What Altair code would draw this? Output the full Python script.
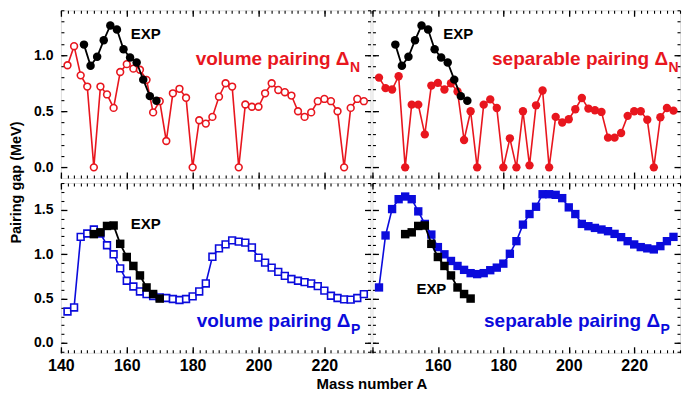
import altair as alt
import pandas as pd

# ---------------- data ----------------
A_model = [142, 144, 146, 148, 150, 152, 154, 156, 158, 160, 162, 164, 166, 168, 170,
           172, 174, 176, 178, 180, 182, 184, 186, 188, 190, 192, 194, 196, 198, 200,
           202, 204, 206, 208, 210, 212, 214, 216, 218, 220, 222, 224, 226, 228, 230, 232]

vol_n = [0.91, 1.08, 0.82, 0.72, 0.00, 0.72, 0.65, 0.53, 0.85, 0.92, 0.88, 0.87, 0.78, 0.49, 0.59,
         0.235, 0.66, 0.70, 0.62, 0.00, 0.42, 0.39, 0.45, 0.63, 0.75, 0.72, 0.00, 0.56, 0.54, 0.54,
         0.66, 0.75, 0.69, 0.67, 0.64, 0.50, 0.45, 0.49, 0.59, 0.61, 0.59, 0.50, 0.00, 0.53, 0.61, 0.59]

sep_n = [0.80, 0.706, 0.694, 0.812, 0.00, 0.559, 0.559, 0.294, 0.729, 0.753, 0.694, 0.75, 0.676, 0.244, 0.50,
         0.00, 0.559, 0.606, 0.529, 0.00, 0.259, 0.00, 0.50, 0.018, 0.553, 0.685, 0.00, 0.45, 0.40, 0.429,
         0.518, 0.618, 0.524, 0.509, 0.494, 0.265, 0.265, 0.306, 0.459, 0.50, 0.50, 0.424, 0.00, 0.447, 0.529, 0.506]

vol_p = [0.354, 0.40, 1.194, 1.232, 1.277, 1.232, 1.10, 0.998, 0.84, 0.70, 0.636, 0.58, 0.55, 0.529, 0.514,
         0.506, 0.495, 0.484, 0.495, 0.525, 0.58, 0.67, 0.97, 1.065, 1.11, 1.154, 1.14, 1.13, 1.075, 0.96,
         0.905, 0.848, 0.80, 0.755, 0.72, 0.70, 0.685, 0.67, 0.64, 0.59, 0.532, 0.506, 0.491, 0.488, 0.506, 0.55]

sep_p = [0.625, 1.21, 1.507, 1.618, 1.648, 1.618, 1.481, 1.34, 1.22, 1.079, 0.998, 0.923, 0.867, 0.823, 0.786,
         0.775, 0.786, 0.819, 0.848, 0.893, 1.004, 1.146, 1.332, 1.451, 1.533, 1.674, 1.674, 1.667, 1.63, 1.526,
         1.451, 1.34, 1.314, 1.295, 1.277, 1.258, 1.228, 1.191, 1.146, 1.109, 1.079, 1.065, 1.053, 1.09, 1.146, 1.194]

A_exp_n = [147, 149, 151, 153, 155, 157, 159, 161, 163, 165, 167, 169]
exp_n = [1.094, 0.905, 0.985, 1.132, 1.265, 1.229, 1.053, 0.979, 0.935, 0.782, 0.635, 0.594]

A_exp_p = [150, 152, 154, 156, 158, 160, 162, 164, 166, 168, 170]
exp_p = [1.225, 1.245, 1.317, 1.322, 1.116, 0.968, 0.867, 0.76, 0.625, 0.551, 0.50]

panel_labels = ["volume pairing \u0394", "separable pairing \u0394",
                "volume pairing \u0394", "separable pairing \u0394"]
panel_subs = ["N", "N", "P", "P"]
exp_label = "EXP"
x_title = "Mass number A"
y_title = "Pairing gap (MeV)"
x_major = [140, 160, 180, 200, 220]

# ---------------- style ----------------
FONT = "Liberation Sans, Arial, Helvetica, sans-serif"
RED = "#e8161e"
BLUE = "#0b0bdc"
XDOM = [140, 234]
YDOM_TOP = [-0.095, 1.40]
YDOM_BOT = [-0.11, 1.80]
x_minor = list(range(140, 235, 2))


def yticks(dom, step):
    n0 = int(round(dom[0] / 0.1)) - 1
    n1 = int(round(dom[1] / 0.1)) + 1
    vals = [round(i * 0.1, 1) for i in range(n0, n1 + 1)]
    vals = [v for v in vals if dom[0] <= v <= dom[1] and (round(v / step, 6) % 1 == 0)]
    return vals


def no_axis_lbl(**kw):
    base = dict(grid=False, domain=False, labels=False, title=None, tickColor="black")
    base.update(kw)
    return alt.Axis(**base)


def panel(y, exp_A, exp_y, color, shape, open_marker, ydom, W, H,
          xlabel_vals, show_ylabels, label, sub, main_x, main_y, exp_x, exp_y_px,
          xaxis_title=None, yaxis_title=None):
    df = pd.DataFrame({"A": A_model, "gap": y})
    dfe = pd.DataFrame({"A": exp_A, "gap": exp_y})
    xs = alt.Scale(domain=XDOM, nice=False, zero=False)
    ys = alt.Scale(domain=ydom, nice=False, zero=False)
    ymaj = yticks(ydom, 0.5)
    ymin = yticks(ydom, 0.1)

    def ghost(xa, ya):
        return alt.Chart(df).mark_point(opacity=0).encode(
            x=alt.X("A:Q", scale=xs, axis=xa),
            y=alt.Y("gap:Q", scale=ys, axis=ya))

    # label axes
    xkw = dict(orient="bottom", values=xlabel_vals if xlabel_vals else x_major, ticks=False,
               domain=False, grid=False, labels=bool(xlabel_vals), labelFontSize=16,
               labelFont=FONT, labelFontWeight="bold", labelColor="black", labelPadding=5,
               labelFlush=False)
    if xaxis_title:
        xkw.update(title=xaxis_title, titleX=311, titleY=24, titleFontSize=15, titleFont=FONT,
                   titleFontWeight="bold", titleColor="black", titleBaseline="top",
                   titleAlign="center")
    else:
        xkw.update(title=None)
    ykw = dict(orient="left", values=ymaj, ticks=False, domain=False, grid=False,
               labels=show_ylabels, labelFontSize=14, labelFont=FONT, labelFontWeight="bold",
               labelColor="black", labelPadding=8, format=".1f", labelFlush=False)
    if yaxis_title:
        ykw.update(title=yaxis_title, titleX=-44, titleY=-1, titleAngle=270, titleFontSize=14.5,
                   titleFont=FONT, titleFontWeight="bold", titleColor="black",
                   titleBaseline="middle", titleAlign="center")
    else:
        ykw.update(title=None)

    layers = [
        ghost(alt.Axis(**xkw), alt.Axis(**ykw)),
        # inward ticks at bottom / left
        ghost(no_axis_lbl(orient="top", offset=-H, values=x_major, tickSize=6, tickWidth=1.3),
              no_axis_lbl(orient="right", offset=-W, values=ymaj, tickSize=6, tickWidth=1.3)),
        ghost(no_axis_lbl(orient="top", offset=-H, values=x_minor, tickSize=3, tickWidth=1.1),
              no_axis_lbl(orient="right", offset=-W, values=ymin, tickSize=3, tickWidth=1.1)),
        # inward ticks at top / right
        ghost(no_axis_lbl(orient="bottom", offset=-H, values=x_major, tickSize=6, tickWidth=1.3),
              no_axis_lbl(orient="left", offset=-W, values=ymaj, tickSize=6, tickWidth=1.3)),
        ghost(no_axis_lbl(orient="bottom", offset=-H, values=x_minor, tickSize=3, tickWidth=1.1),
              no_axis_lbl(orient="left", offset=-W, values=ymin, tickSize=3, tickWidth=1.1)),
    ]

    enc = dict(x=alt.X("A:Q", scale=xs, axis=None), y=alt.Y("gap:Q", scale=ys, axis=None))
    layers.append(alt.Chart(df).mark_line(color=color, strokeWidth=1.6).encode(**enc))
    if open_marker:
        pts = alt.Chart(df).mark_point(shape=shape, filled=True, fill="white", stroke=color,
                                       strokeWidth=1.6, size=46, opacity=1).encode(**enc)
    else:
        pts = alt.Chart(df).mark_point(shape=shape, filled=True, color=color,
                                       size=70, opacity=1).encode(**enc)
    layers.append(pts)
    encE = dict(x=alt.X("A:Q", scale=xs, axis=None), y=alt.Y("gap:Q", scale=ys, axis=None))
    layers.append(alt.Chart(dfe).mark_line(color="black", strokeWidth=1.8).encode(**encE))
    layers.append(alt.Chart(dfe).mark_point(shape=shape, filled=True, color="black",
                                            size=72, opacity=1).encode(**encE))

    def txt(t, x, yy, size, col, align):
        return alt.Chart(pd.DataFrame({"t": [t]})).mark_text(
            align=align, baseline="alphabetic", font=FONT, fontWeight="bold",
            fontSize=size, color=col).encode(text="t:N", x=alt.value(x), y=alt.value(yy))

    layers.append(txt(label, main_x, main_y, 19, color, "right"))
    layers.append(txt(sub, main_x + 0.5, main_y + 7, 14, color, "left"))
    layers.append(txt(exp_label, exp_x, exp_y_px, 15, "black", "left"))

    return alt.layer(*layers).resolve_scale(x="shared", y="shared").resolve_axis(
        x="independent", y="independent").properties(width=W, height=H)


TL = panel(vol_n, A_exp_n, exp_n, RED, "circle", True, YDOM_TOP, 310, 168,
           None, True, panel_labels[0], panel_subs[0], 289, 55, 70, 29)
TR = panel(sep_n, A_exp_n, exp_n, RED, "circle", False, YDOM_TOP, 308, 168,
           None, False, panel_labels[1], panel_subs[1], 296, 55, 71, 29)
BL = panel(vol_p, A_exp_p, exp_p, BLUE, "square", True, YDOM_BOT, 310, 170,
           x_major, True, panel_labels[2], panel_subs[2], 290, 144, 70, 46,
           xaxis_title=x_title, yaxis_title=y_title)
BR = panel(sep_p, A_exp_p, exp_p, BLUE, "square", False, YDOM_BOT, 308, 170,
           [160, 180, 200, 220], False, panel_labels[3], panel_subs[3], 288, 144, 44, 111)

chart = alt.concat(TL, TR, BL, BR, columns=2, spacing={"row": 5, "column": 2},
                   bounds="flush").properties(padding=0).configure_view(
    stroke="black", strokeWidth=2).configure(font=FONT)

chart.save("out.html", embed_options={"renderer": "svg", "actions": False})
